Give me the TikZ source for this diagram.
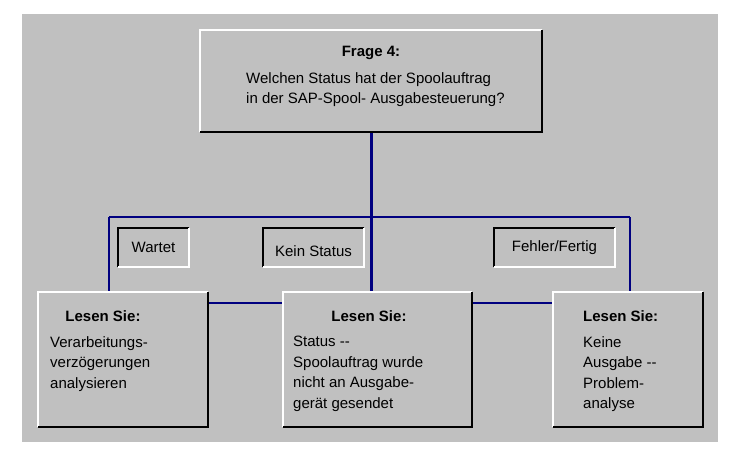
\documentclass[tikz,border=0pt]{standalone}
\usepackage{fontspec}
\setmainfont{Liberation Sans}
\definecolor{panel}{RGB}{192,192,192}
\definecolor{wire}{RGB}{0,0,128}
\begin{document}
\begin{tikzpicture}[x=1pt, y=-1pt, font=\fontsize{15}{20.5}\selectfont,
	box/.style={fill=panel, inner sep=0, outer sep=0},
	txt/.style={anchor=north west, align=left, inner sep=0},
	ttl/.style={font=\fontsize{15}{20.5}\selectfont\bfseries, inner sep=0},
	wire/.style={draw=wire, line width=2pt}]
	\useasboundingbox (0,0) rectangle (742,458);
	\fill[panel] (22,14) rectangle (718,442);
	% boxes
	\node[box, minimum width=342, minimum height=102] (q) at (371,81) {};
	\node[box, minimum width=170, minimum height=135] (a) at (123,359.5) {};
	\node[box, minimum width=189, minimum height=135] (b) at (377.5,359.5) {};
	\node[box, minimum width=150, minimum height=135] (c) at (628,359.5) {};
	\node[box, minimum width=71, minimum height=39] (la) at (153.5,247.5) {Wartet};
	\node[box, minimum width=101, minimum height=39] (lb) at (313.5,247.5) {};
	\node[inner sep=0] at (313.5,251) {Kein Status};
	\node[box, minimum width=121, minimum height=39] (lc) at (554.5,247.5) {Fehler/Fertig};
	% connectors
	\coordinate (l) at (109,217);
	\coordinate (r) at (630,217);
	\draw[wire] (l) -- (r);
	\draw[wire] (l) -- (l |- a.north);
	\draw[wire] (r) -- (r |- c.north);
	\draw[wire, line width=3pt] (q.south) -- (q.south |- b.north);
	\draw[wire] ([yshift=-11pt]a.north east) -- ([yshift=-11pt]b.north west);
	\draw[wire] ([yshift=-11pt]b.north east) -- ([yshift=-11pt]c.north west);
	% raised and sunken edges
	\foreach \n in {q,a,b,c} {
		\draw[white, line width=2pt] (\n.south west) |- (\n.north east);
		\draw[black, line width=2pt] (\n.north east) |- (\n.south west);
	}
	\foreach \n in {la,lb,lc} {
		\draw[black, line width=2pt] (\n.south west) |- (\n.north east);
		\draw[white, line width=2pt] (\n.north east) |- (\n.south west);
	}
	% texts
	\node[ttl] (qt) at (371,53) {Frage 4:};
	\node[txt] (qb) at (246,72) {Welchen Status hat der Spoolauftrag\\in der SAP-Spool- Ausgabesteuerung?};
	\node[ttl] (at) at (103,316) {Lesen Sie:};
	\node[txt] (ab) at (50,336) {Verarbeitungs-\\verzögerungen\\analysieren};
	\node[ttl] (bt) at (369,316) {Lesen Sie:};
	\node[txt] (bb) at (293,336) {Status -{}-\\Spoolauftrag wurde\\nicht an Ausgabe-\\gerät gesendet};
	\node[ttl, anchor=west] (ct) at (583,316) {Lesen Sie:};
	\node[txt] (cb) at (583,336) {Keine\\Ausgabe -{}-\\Problem-\\analyse};
\end{tikzpicture}
\end{document}
